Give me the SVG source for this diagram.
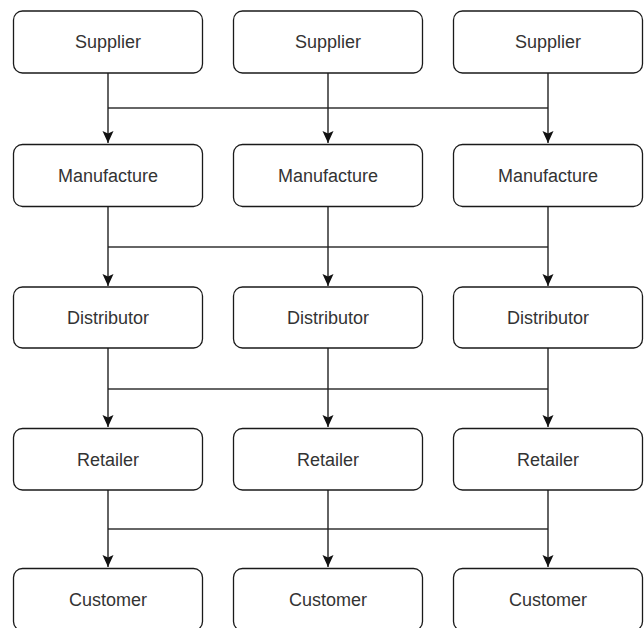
<svg xmlns="http://www.w3.org/2000/svg" width="644" height="628" viewBox="0 0 644 628">
<style>
.box{fill:#fff;stroke:#1a1a1a;stroke-width:1.3}
.lbl{font-family:"Liberation Sans",Arial,sans-serif;font-size:18px;fill:#333;text-anchor:middle}
.v{stroke:#222;stroke-width:1.4;fill:none}
.h{stroke:#666;stroke-width:1.8;fill:none}
</style>
<defs>
<marker id="arr" markerUnits="userSpaceOnUse" markerWidth="14" markerHeight="14" viewBox="0 0 14 14" refX="13" refY="7" orient="auto">
<path d="M1,1.5 L13,7 L1,12.5 L3.5,7 Z" fill="#111"/>
</marker>
</defs>
<rect width="644" height="628" fill="#fff"/>
<g id="connectors">
<line class="h" x1="108" y1="108" x2="548" y2="108"/>
<line class="h" x1="108" y1="247" x2="548" y2="247"/>
<line class="h" x1="108" y1="389" x2="548" y2="389"/>
<line class="h" x1="108" y1="529" x2="548" y2="529"/>
<line class="v" x1="108" y1="73" x2="108" y2="143" marker-end="url(#arr)"/>
<line class="v" x1="328" y1="73" x2="328" y2="143" marker-end="url(#arr)"/>
<line class="v" x1="548" y1="73" x2="548" y2="143" marker-end="url(#arr)"/>
<line class="v" x1="108" y1="207" x2="108" y2="286" marker-end="url(#arr)"/>
<line class="v" x1="328" y1="207" x2="328" y2="286" marker-end="url(#arr)"/>
<line class="v" x1="548" y1="207" x2="548" y2="286" marker-end="url(#arr)"/>
<line class="v" x1="108" y1="348" x2="108" y2="427" marker-end="url(#arr)"/>
<line class="v" x1="328" y1="348" x2="328" y2="427" marker-end="url(#arr)"/>
<line class="v" x1="548" y1="348" x2="548" y2="427" marker-end="url(#arr)"/>
<line class="v" x1="108" y1="490" x2="108" y2="567" marker-end="url(#arr)"/>
<line class="v" x1="328" y1="490" x2="328" y2="567" marker-end="url(#arr)"/>
<line class="v" x1="548" y1="490" x2="548" y2="567" marker-end="url(#arr)"/>
</g>
<g id="supplier1"><rect class="box" x="13.5" y="11" width="189" height="62" rx="9"/><text class="lbl" x="108" y="48">Supplier</text></g>
<g id="supplier2"><rect class="box" x="233.5" y="11" width="189" height="62" rx="9"/><text class="lbl" x="328" y="48">Supplier</text></g>
<g id="supplier3"><rect class="box" x="453.5" y="11" width="189" height="62" rx="9"/><text class="lbl" x="548" y="48">Supplier</text></g>
<g id="manufacture1"><rect class="box" x="13.5" y="144.5" width="189" height="62" rx="9"/><text class="lbl" x="108" y="182">Manufacture</text></g>
<g id="manufacture2"><rect class="box" x="233.5" y="144.5" width="189" height="62" rx="9"/><text class="lbl" x="328" y="182">Manufacture</text></g>
<g id="manufacture3"><rect class="box" x="453.5" y="144.5" width="189" height="62" rx="9"/><text class="lbl" x="548" y="182">Manufacture</text></g>
<g id="distributor1"><rect class="box" x="13.5" y="287" width="189" height="61" rx="9"/><text class="lbl" x="108" y="324">Distributor</text></g>
<g id="distributor2"><rect class="box" x="233.5" y="287" width="189" height="61" rx="9"/><text class="lbl" x="328" y="324">Distributor</text></g>
<g id="distributor3"><rect class="box" x="453.5" y="287" width="189" height="61" rx="9"/><text class="lbl" x="548" y="324">Distributor</text></g>
<g id="retailer1"><rect class="box" x="13.5" y="428.5" width="189" height="61.5" rx="9"/><text class="lbl" x="108" y="466">Retailer</text></g>
<g id="retailer2"><rect class="box" x="233.5" y="428.5" width="189" height="61.5" rx="9"/><text class="lbl" x="328" y="466">Retailer</text></g>
<g id="retailer3"><rect class="box" x="453.5" y="428.5" width="189" height="61.5" rx="9"/><text class="lbl" x="548" y="466">Retailer</text></g>
<g id="customer1"><rect class="box" x="13.5" y="568.5" width="189" height="62" rx="9"/><text class="lbl" x="108" y="606">Customer</text></g>
<g id="customer2"><rect class="box" x="233.5" y="568.5" width="189" height="62" rx="9"/><text class="lbl" x="328" y="606">Customer</text></g>
<g id="customer3"><rect class="box" x="453.5" y="568.5" width="189" height="62" rx="9"/><text class="lbl" x="548" y="606">Customer</text></g>
</svg>
